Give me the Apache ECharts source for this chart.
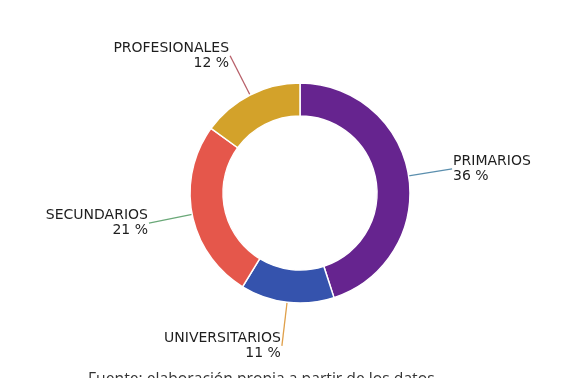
<!DOCTYPE html>
<html>
<head>
<meta charset="utf-8">
<script src="https://cdn.jsdelivr.net/npm/echarts@6/dist/echarts.min.js"></script>
<style>
  html, body { margin: 0; padding: 0; background: #ffffff; }
  #chart { width: 576px; height: 378px; }
</style>
</head>
<body>
<div id="chart"></div>
<script>
// Nivel de estudios: valores en porcentaje
const categories = ['PRIMARIOS', 'UNIVERSITARIOS', 'SECUNDARIOS', 'PROFESIONALES'];
const values = [36, 11, 21, 12];
const sliceColors = ['#66248f', '#3553ad', '#e5574b', '#d3a22a'];
const lineColors = ['#5b8fae', '#e0a04a', '#6aa878', '#b8606a'];
const sourceNote = 'Fuente: elaboración propia a partir de los datos';

const chart = echarts.init(document.getElementById('chart'), null, { renderer: 'canvas' });

const data = categories.map((name, i) => ({
  name: name,
  value: values[i],
  itemStyle: { color: sliceColors[i] },
  labelLine: { lineStyle: { color: lineColors[i], width: 1.3 } }
}));

chart.setOption({
  backgroundColor: '#ffffff',
  animation: false,
  series: [{
    type: 'pie',
    center: [300, 193],
    radius: [77, 110],
    startAngle: 90,
    clockwise: true,
    avoidLabelOverlap: false,
    itemStyle: { borderColor: '#ffffff', borderWidth: 1.5 },
    label: {
      show: true,
      formatter: '{b}\n{c} %',
      fontFamily: 'DejaVu Sans',
      fontSize: 14,
      lineHeight: 15,
      color: '#1e1e1e',
      distanceToLabelLine: 1
    },
    labelLine: {
      show: true,
      length: 44,
      length2: 0,
      smooth: false
    },
    emphasis: { disabled: true },
    data: data
  }],
  graphic: [{
    type: 'text',
    left: 88,
    top: 372,
    style: {
      text: sourceNote,
      fontFamily: 'Open Sans',
      fontSize: 15.7,
      fill: '#333333'
    }
  }]
});
</script>
</body>
</html>
